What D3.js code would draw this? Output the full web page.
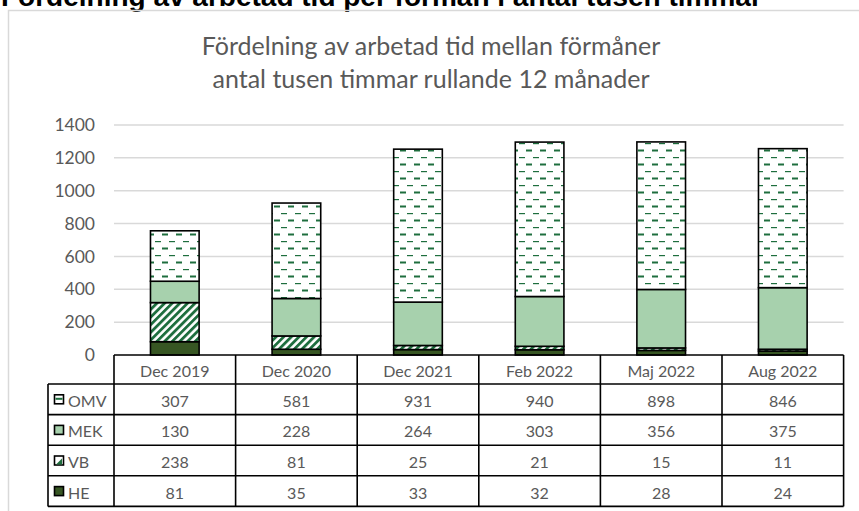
<!DOCTYPE html>
<html><head><meta charset="utf-8">
<script src="https://cdn.jsdelivr.net/npm/d3@7"></script>
<style>body{margin:0;background:#fff}svg{display:block}</style>
</head><body>
<svg id="c" width="859" height="511"></svg>
<script>
const categories = ["Dec 2019","Dec 2020","Dec 2021","Feb 2022","Maj 2022","Aug 2022"];
const seriesNames = ["HE","VB","MEK","OMV"];
const HE  = [81,35,33,32,28,24];
const VB  = [238,81,25,21,15,11];
const MEK = [130,228,264,303,356,375];
const OMV = [307,581,931,940,898,846];
const yTicks = [0,200,400,600,800,1000,1200,1400];
const tableOrder = ["OMV","MEK","VB","HE"];
const seriesValues = {HE, VB, MEK, OMV};

const svg = d3.select("#c");
const defs = svg.append("defs");
const green = "#1e6e3e";
const FONT = "Lato, 'Open Sans', sans-serif";
const pVB = defs.append("pattern").attr("id","pVB").attr("patternUnits","userSpaceOnUse")
  .attr("width",5.4).attr("height",5.4).attr("patternTransform","rotate(45)");
pVB.append("rect").attr("width",5.4).attr("height",5.4).attr("fill","#fff");
pVB.append("rect").attr("width",2.8).attr("height",5.4).attr("fill",green);
const pOMV = defs.append("pattern").attr("id","pOMV").attr("patternUnits","userSpaceOnUse")
  .attr("width",14).attr("height",14);
pOMV.append("rect").attr("width",14).attr("height",14).attr("fill","#fff");
pOMV.append("rect").attr("x",1).attr("y",3).attr("width",6).attr("height",1.2).attr("fill",green);
pOMV.append("rect").attr("x",8).attr("y",9.5).attr("width",6).attr("height",2).attr("fill",green);
const fills = {HE:"#375623", VB:"url(#pVB)", MEK:"#a7d1ad", OMV:"url(#pOMV)"};

// heading (partly cut off at the top, as in the reference)
svg.append("text").attr("x",1).attr("y",6).attr("font-family","Liberation Sans, Arial, sans-serif")
  .attr("font-weight","bold").attr("font-size",28).attr("fill","#000")
  .text("Fördelning av arbetad tid per förmån i antal tusen timmar");

svg.append("path").attr("d","M8.5,511 V10.5 H859").attr("fill","none").attr("stroke","#d9d9d9").attr("stroke-width",1.5);

const title = svg.append("text").attr("text-anchor","middle").attr("font-family",FONT)
  .attr("font-size",25).attr("fill","#595959");
title.append("tspan").attr("x",431).attr("y",55).text("Fördelning av arbetad tid mellan förmåner");
title.append("tspan").attr("x",431).attr("y",88).text("antal tusen timmar rullande 12 månader");

const left = 114, right = 843.6, top0 = 125, bottom = 355;
const y = d3.scaleLinear().domain([0,1400]).range([bottom, top0]);
const xCol = d3.scaleBand().domain(categories).range([left,right]).padding(0);
const xBar = d3.scaleBand().domain(categories).range([left,right]).paddingInner(0.6).paddingOuter(0.3);

svg.append("g").selectAll("line").data(yTicks.filter(d=>d>0)).join("line")
  .attr("x1",left).attr("x2",right).attr("y1",d=>y(d)).attr("y2",d=>y(d))
  .attr("stroke","#d9d9d9").attr("stroke-width",1.5);

const yAxis = d3.axisLeft(y).tickValues(yTicks).tickFormat(d3.format("d")).tickSize(0).tickPadding(0);
const ga = svg.append("g").attr("transform","translate(95,0)").call(yAxis);
ga.select(".domain").remove();
ga.selectAll("text").attr("font-family",FONT).attr("font-size",17.5).attr("fill","#595959");

const rows = categories.map((c,i)=>({cat:c, HE:HE[i], VB:VB[i], MEK:MEK[i], OMV:OMV[i]}));
const stack = d3.stack().keys(seriesNames)(rows);
svg.append("g").selectAll("g").data(stack).join("g")
  .attr("fill",d=>fills[d.key])
  .selectAll("rect").data(d=>d).join("rect")
  .attr("x",d=>xBar(d.data.cat)).attr("width",xBar.bandwidth())
  .attr("y",d=>y(d[1])).attr("height",d=>y(d[0])-y(d[1]))
  .attr("stroke","#000").attr("stroke-width",1.6);

const rowH = 30.6;
const headTop = bottom, headBot = 384;
const lc = 48;
const tg = svg.append("g");
const txt = (x,yy,t,anchor="middle") => tg.append("text").attr("x",x).attr("y",yy)
  .attr("text-anchor",anchor).attr("dominant-baseline","central")
  .attr("font-family",FONT).attr("font-size",16).attr("fill","#595959").text(t);
categories.forEach(c=> txt(xCol(c)+xCol.bandwidth()/2, (headTop+headBot)/2+1, c));
tableOrder.forEach((k,ri)=>{
  const r0 = headBot + ri*rowH, cy = r0 + rowH/2 + 1;
  categories.forEach((c,i)=> txt(xCol(c)+xCol.bandwidth()/2, cy, seriesValues[k][i]));
  tg.append("rect").attr("x",54.5).attr("y",cy-5.5).attr("width",9).attr("height",9)
    .attr("fill",(k==="OMV"||k==="VB")?"#fff":fills[k]).attr("stroke","#000").attr("stroke-width",1.6);
  if(k==="OMV") tg.append("rect").attr("x",55.5).attr("y",cy-2.5).attr("width",7).attr("height",2).attr("fill",green);
  if(k==="VB") tg.append("path").attr("d",`M56,${cy+3} L62,${cy-3} L62,${cy+3} Z`).attr("fill",green);
  txt(68, cy, k, "start");
});
const tableBottom = headBot + 4*rowH;
const L = (x1,y1,x2,y2)=> tg.append("line").attr("x1",x1).attr("y1",y1).attr("x2",x2).attr("y2",y2)
  .attr("stroke","#000").attr("stroke-width",1.6);
L(left,headTop,right,headTop);
L(lc,headBot,right,headBot);
for(let ri=1;ri<=4;ri++) L(lc,headBot+ri*rowH,right,headBot+ri*rowH);
L(lc,headBot,lc,tableBottom);
categories.forEach(c=> L(xCol(c),headTop,xCol(c),tableBottom));
L(right,headTop,right,tableBottom);
</script>
</body></html>
